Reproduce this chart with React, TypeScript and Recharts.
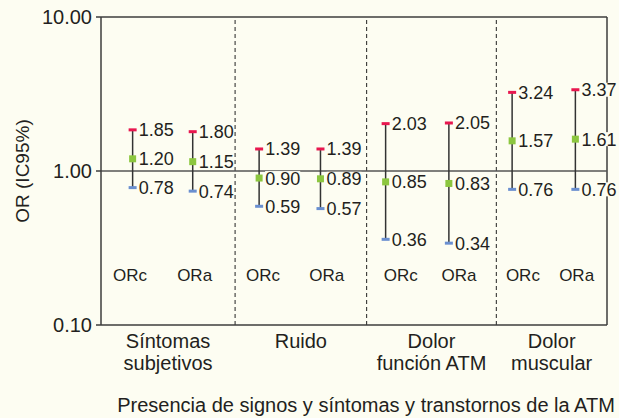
import React from 'react';
import {
  ComposedChart,
  Scatter,
  XAxis,
  YAxis,
  ReferenceLine,
  ErrorBar,
  LabelList,
} from 'recharts';

const groups = ['Síntomas|subjetivos', 'Ruido', 'Dolor|función ATM', 'Dolor|muscular'];
const measures = ['ORc', 'ORa', 'ORc', 'ORa', 'ORc', 'ORa', 'ORc', 'ORa'];
const orValues = [1.2, 1.15, 0.9, 0.89, 0.85, 0.83, 1.57, 1.61];
const lowValues = [0.78, 0.74, 0.59, 0.57, 0.36, 0.34, 0.76, 0.76];
const highValues = [1.85, 1.8, 1.39, 1.39, 2.03, 2.05, 3.24, 3.37];
// x position of each estimate (one unit per estimate slot)
const xPos = [0.5, 1.45, 2.5, 3.47, 4.5, 5.5, 6.5, 7.5];
const measureLabelX = [0.46, 1.48, 2.56, 3.57, 4.74, 5.66, 6.67, 7.52];
const groupBounds = [0, 2.12, 4.2, 6.25, 8];
const yTicks = [0.1, 1, 10];

const BG = '#fdfdf2';
const INK = '#231f20';
const FONT = '"Liberation Sans", Arial, Helvetica, sans-serif';

const points = orValues.map((or, i) => ({
  x: xPos[i],
  or,
  low: lowValues[i],
  high: highValues[i],
  err: [or - lowValues[i], highValues[i] - or],
}));

const measurePoints = measures.map((m, i) => ({ x: measureLabelX[i], y: 0.21, name: m }));

const groupCenters = groups.map((_, i) => (groupBounds[i] + groupBounds[i + 1]) / 2);
const separators = groupBounds.slice(1, -1);

const Square = ({ cx, cy }: any) => (
  <rect x={cx - 3.5} y={cy - 3.5} width={7} height={7} fill="#8cc63f" />
);
const RedCap = ({ cx, cy }: any) => (
  <rect x={cx - 4} y={cy - 1.5} width={8} height={3} fill="#e8174f" />
);
const BlueCap = ({ cx, cy }: any) => (
  <rect x={cx - 4} y={cy - 1.5} width={8} height={3} fill="#6a8fd0" />
);
const NoShape = () => <g />;

// value label to the right of a marker, with a background so the 1.00 line stops behind it
const ValueLabel = (props: any) => {
  const vb = props.viewBox ?? props;
  const cx = vb.x + (vb.width || 0) / 2;
  const cy = vb.y + (vb.height || 0) / 2;
  const text = Number(props.value).toFixed(2);
  const fs = 18;
  const w = fs * 1.95;
  return (
    <g>
      <rect x={cx + 6} y={cy - 7} width={w} height={14} fill={BG} />
      <text
        x={cx + 6}
        y={cy + fs * 0.36}
        fontSize={fs}
        fill={INK}
        fontFamily={FONT}
      >
        {text}
      </text>
    </g>
  );
};

const GroupTick = ({ x, y, payload }: any) => {
  const idx = groupCenters.findIndex((c) => Math.abs(c - payload.value) < 1e-6);
  const lines = (groups[idx] ?? '').split('|');
  return (
    <text x={x} y={y + 23} textAnchor="middle" fontSize={20} fill={INK} fontFamily={FONT}>
      {lines.map((l, i) => (
        <tspan key={i} x={x} dy={i === 0 ? 0 : 22}>
          {l}
        </tspan>
      ))}
    </text>
  );
};

export default function App() {
  return (
    <div
      style={{
        position: 'absolute',
        left: 0,
        top: 0,
        width: 619,
        height: 418,
        background: BG,
        fontFamily: FONT,
      }}
    >
      <ComposedChart
        width={619}
        height={418}
        margin={{ top: 17, right: 12, bottom: 0, left: 0 }}
      >
        <XAxis
          type="number"
          dataKey="x"
          domain={[0, 8]}
          ticks={groupCenters}
          tick={<GroupTick />}
          tickLine={false}
          tickSize={0}
          tickMargin={0}
          height={93}
          stroke="#3c3c3c"
          strokeWidth={1.5}
          allowDataOverflow
          label={{
            content: (p: any) => (
              <text
                x={p.viewBox.x + p.viewBox.width / 2 + 12}
                y={p.viewBox.y + 87}
                textAnchor="middle"
                fontSize={20}
                fill={INK}
                fontFamily={FONT}
              >
                Presencia de signos y síntomas y transtornos de la ATM
              </text>
            ),
          }}
        />
        <YAxis
          type="number"
          scale="log"
          domain={[0.1, 10]}
          ticks={yTicks}
          allowDataOverflow
          width={101}
          tickSize={5}
          tickMargin={4}
          tickFormatter={(v: number) => v.toFixed(2)}
          tick={{ fontSize: 20, fill: INK, fontFamily: FONT }}
          stroke="#3c3c3c"
          strokeWidth={1.5}
          label={{
            content: (p: any) => {
              const cx = p.viewBox.x + 22;
              const cy = p.viewBox.y + p.viewBox.height / 2;
              return (
                <text
                  x={cx}
                  y={cy}
                  transform={`rotate(-90 ${cx} ${cy})`}
                  textAnchor="middle"
                  dominantBaseline="central"
                  fontSize={19}
                  fill={INK}
                  fontFamily={FONT}
                >
                  OR (IC95%)
                </text>
              );
            },
          }}
        />
        <ReferenceLine y={10} stroke="#3c3c3c" strokeWidth={1.5} />
        <ReferenceLine x={8} stroke="#3c3c3c" strokeWidth={1.5} />
        {separators.map((s) => (
          <ReferenceLine key={s} x={s} stroke="#222" strokeDasharray="4 3" strokeWidth={1} />
        ))}
        <ReferenceLine y={1} stroke="#555" strokeWidth={1.5} />
        <Scatter data={points} dataKey="or" shape={<Square />} isAnimationActive={false}>
          <ErrorBar dataKey="err" direction="y" width={0} stroke="#333" strokeWidth={1.5} />
          <LabelList dataKey="or" content={<ValueLabel />} />
        </Scatter>
        <Scatter data={points} dataKey="high" shape={<RedCap />} isAnimationActive={false}>
          <LabelList dataKey="high" content={<ValueLabel />} />
        </Scatter>
        <Scatter data={points} dataKey="low" shape={<BlueCap />} isAnimationActive={false}>
          <LabelList dataKey="low" content={<ValueLabel />} />
        </Scatter>
        <Scatter data={measurePoints} dataKey="y" shape={<NoShape />} isAnimationActive={false}>
          <LabelList
            dataKey="name"
            position="center"
            style={{ fontSize: 17, fill: INK, fontFamily: FONT }}
          />
        </Scatter>
      </ComposedChart>
    </div>
  );
}
